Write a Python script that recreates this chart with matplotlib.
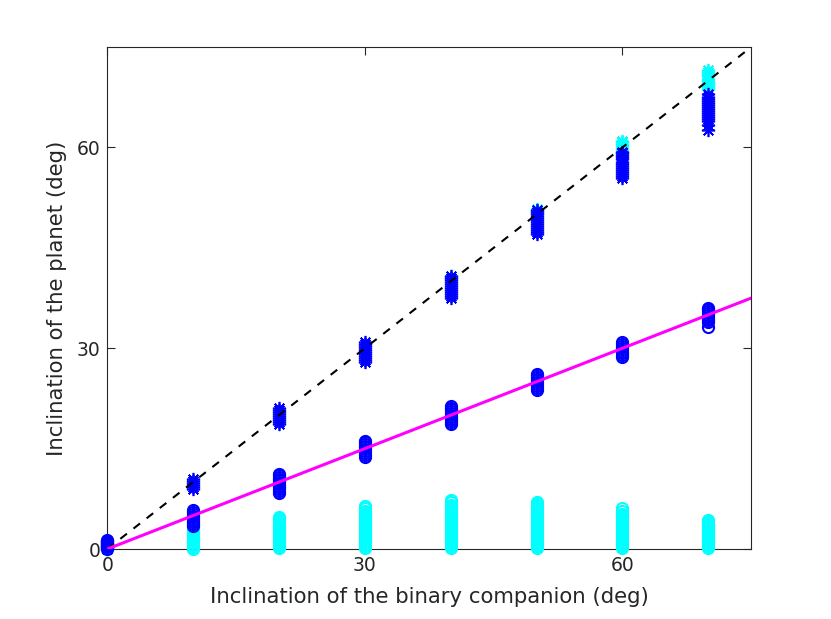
import numpy as np
import matplotlib
matplotlib.use("Agg")
import matplotlib.pyplot as plt

# companion inclination (deg), one column of runs per value
x_vals = [0, 10, 20, 30, 40, 50, 60, 70]

# planet inclination, one list per column
blue_circles = [
    [0.0, 0.3, 0.5, 0.8, 1.0, 1.2, 1.4],
    [3.4, 3.7, 4.0, 4.2, 4.5, 4.8, 5.0, 5.3, 5.6, 5.8],
    [8.3, 8.6, 8.9, 9.2, 9.4, 9.7, 10.0, 10.3, 10.5, 10.8, 11.0, 11.2],
    [13.8, 14.1, 14.4, 14.6, 14.9, 15.2, 15.4, 15.7, 16.0, 16.2],
    [18.7, 19.0, 19.3, 19.5, 19.8, 20.1, 20.3, 20.6, 20.9, 21.1, 21.3],
    [23.8, 24.1, 24.4, 24.6, 24.9, 25.2, 25.4, 25.7, 26.0, 26.2],
    [28.7, 29.0, 29.3, 29.5, 29.8, 30.1, 30.3, 30.6, 30.9],
    [33.1, 33.9, 34.2, 34.4, 34.7, 35.0, 35.2, 35.5, 35.8, 36.0],
]
cyan_circles = [
    [0.0, 0.3, 0.6, 0.9],
    [0.0, 0.3, 0.6, 0.9, 1.2, 1.5, 1.8, 2.1, 2.4, 2.7, 3.0, 3.3, 3.6, 3.8],
    [0.1, 0.4, 0.7, 1.0, 1.3, 1.6, 1.9, 2.2, 2.5, 2.8, 3.1, 3.4, 3.7, 4.0,
     4.3, 4.5, 4.8],
    [0.1, 0.4, 0.7, 1.0, 1.3, 1.6, 1.9, 2.2, 2.5, 2.8, 3.1, 3.4, 3.7, 4.0,
     4.3, 4.6, 4.9, 5.2, 5.5, 5.7, 6.1, 6.5],
    [0.1, 0.4, 0.7, 1.0, 1.3, 1.6, 1.9, 2.2, 2.5, 2.8, 3.1, 3.4, 3.7, 4.0,
     4.3, 4.6, 4.9, 5.2, 5.5, 5.8, 6.1, 6.4, 6.6, 7.0, 7.4],
    [0.1, 0.4, 0.7, 1.0, 1.3, 1.6, 1.9, 2.2, 2.5, 2.8, 3.1, 3.4, 3.7, 4.0,
     4.3, 4.6, 4.9, 5.2, 5.5, 5.8, 6.1, 6.4, 6.7, 7.0],
    [0.1, 0.4, 0.7, 1.0, 1.3, 1.6, 1.9, 2.2, 2.5, 2.8, 3.1, 3.4, 3.7, 4.0,
     4.3, 4.6, 4.9, 5.1, 5.3, 5.7, 6.1],
    [0.1, 0.4, 0.7, 1.0, 1.3, 1.6, 1.9, 2.2, 2.5, 2.8, 3.1, 3.4, 3.7, 4.0,
     4.2, 4.4],
]
blue_stars = [
    [0.0, 0.3, 0.6, 0.9, 1.2],
    [9.0, 9.3, 9.6, 9.9, 10.2, 10.5],
    [18.7, 19.0, 19.3, 19.6, 19.9, 20.2, 20.5, 20.8, 21.0],
    [28.0, 28.3, 28.6, 28.9, 29.2, 29.5, 29.8, 30.1, 30.4, 30.7, 31.0],
    [37.5, 37.8, 38.1, 38.4, 38.7, 39.0, 39.3, 39.6, 39.9, 40.2, 40.5, 40.8],
    [47.0, 47.3, 47.6, 47.9, 48.2, 48.5, 48.8, 49.1, 49.4, 49.7, 50.0, 50.3,
     50.6],
    [55.5, 55.8, 56.1, 56.4, 56.7, 57.0, 57.3, 57.6, 57.9, 58.2, 58.5, 58.8,
     59.1, 59.3],
    [62.6, 63.4, 64.0, 64.3, 64.6, 64.9, 65.2, 65.5, 65.8, 66.1, 66.4, 66.7,
     67.0, 67.3, 67.6, 68.0],
]
cyan_stars = [
    [], [], [], [], [40.5, 40.8],
    [50.2, 50.5, 50.8],
    [59.6, 59.9, 60.2, 60.5, 60.8, 61.0],
    [68.8, 69.1, 69.4, 69.7, 70.0, 70.3, 70.6, 70.9, 71.2, 71.6],
]

lim = 75
ticks = [0, 30, 60]
txt = (0.15, 0.15, 0.15)

plt.rcParams['font.family'] = ['DejaVu Sans']

fig = plt.figure(figsize=(8.31, 6.19), dpi=100)
ax = fig.add_axes([0.129, 0.113, 0.775, 0.811])

star = (8, 2, 0)
circ = dict(marker='o', mfc='none', ms=8.0, mew=1.5, ls='none', clip_on=False)
ast = dict(marker=star, ms=9.5, mew=1.2, ls='none', clip_on=False)

for x, vals in zip(x_vals, cyan_circles):
    ax.plot([x] * len(vals), vals, mec=(0, 1, 1), **circ)
for x, vals in zip(x_vals, cyan_stars):
    ax.plot([x] * len(vals), vals, mec=(0, 1, 1), **ast)
for x, vals in zip(x_vals, blue_circles):
    ax.plot([x] * len(vals), vals, mec=(0, 0, 1), **circ)
for x, vals in zip(x_vals, blue_stars):
    ax.plot([x] * len(vals), vals, mec=(0, 0, 1), **ast)

line_x = np.array([0, lim])
ax.plot(line_x, line_x, '--', color='k', lw=1.5, dashes=(4, 4))
ax.plot(line_x, line_x / 2, '-', color=(1, 0, 1), lw=2.2)

ax.set_xlim(0, lim)
ax.set_ylim(0, lim)
ax.set_xticks(ticks)
ax.set_yticks(ticks)
ax.tick_params(direction='in', length=6, width=0.8, top=True, right=True,
               labelsize=13.5, colors=txt, labelcolor=txt, pad=5)
for s in ax.spines.values():
    s.set_color(txt)
    s.set_linewidth(0.8)
    s.set_zorder(0.5)

ax.set_xlabel('Inclination of the binary companion (deg)', fontsize=15.3,
              color=txt, labelpad=9)
ax.set_ylabel('Inclination of the planet (deg)', fontsize=15.3,
              color=txt, labelpad=7)

fig.savefig('out.png', dpi=100)
